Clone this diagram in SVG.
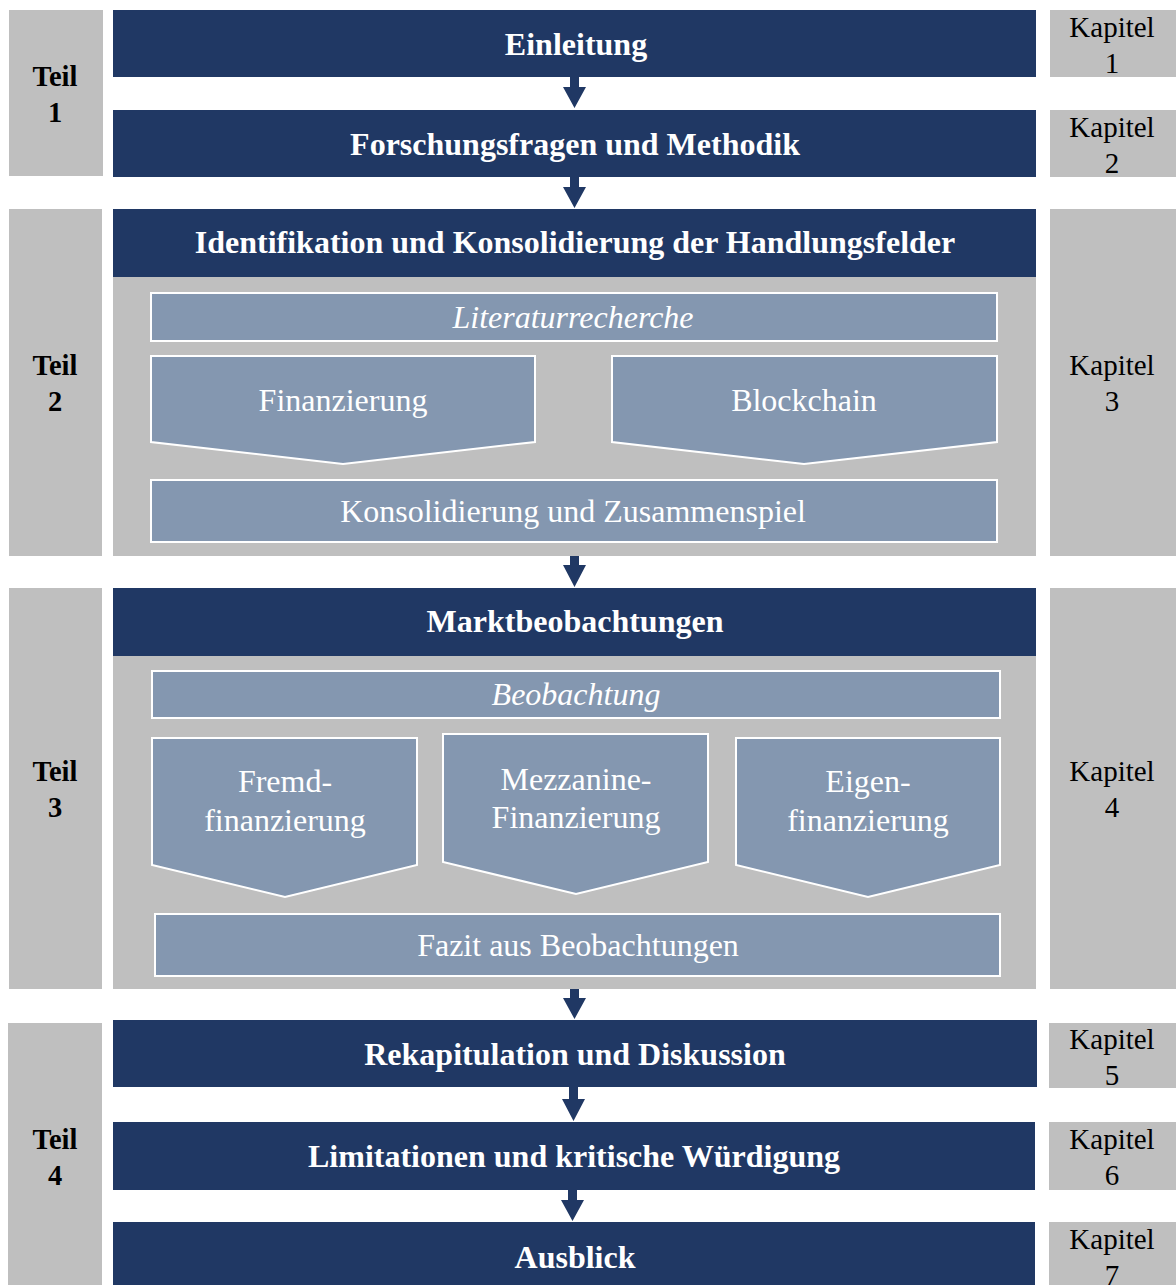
<svg xmlns="http://www.w3.org/2000/svg" width="1176" height="1285" viewBox="0 0 1176 1285">
  <style>
    .side { fill: #bfbfbf; }
    .head { fill: #203864; }
    .panel { fill: #bfbfbf; }
    .sub { fill: #8497b0; stroke: #ffffff; stroke-width: 2; }
    .arrow { fill: #203864; }
    .ht { font-family: "Liberation Serif", "Times New Roman", serif; font-weight: bold; font-size: 32px; fill: #ffffff; text-anchor: middle; }
    .st { font-family: "Liberation Serif", "Times New Roman", serif; font-size: 32px; fill: #ffffff; text-anchor: middle; }
    .it { font-style: italic; }
    .teil { font-family: "Liberation Serif", "Times New Roman", serif; font-weight: bold; font-size: 28.5px; fill: #000000; text-anchor: middle; }
    .kap { font-family: "Liberation Serif", "Times New Roman", serif; font-size: 29px; fill: #000000; text-anchor: middle; }
  </style>

  <!-- Part labels (left column) -->
  <g id="teil1"><rect class="side" x="9" y="10" width="94" height="166"/><text class="teil" x="55" y="86">Teil</text><text class="teil" x="55" y="122">1</text></g>
  <g id="teil2"><rect class="side" x="9" y="209" width="93" height="347"/><text class="teil" x="55" y="375">Teil</text><text class="teil" x="55" y="411">2</text></g>
  <g id="teil3"><rect class="side" x="9" y="588" width="93" height="401"/><text class="teil" x="55" y="781">Teil</text><text class="teil" x="55" y="817">3</text></g>
  <g id="teil4"><rect class="side" x="8" y="1023" width="94" height="262"/><text class="teil" x="55" y="1149">Teil</text><text class="teil" x="55" y="1185">4</text></g>

  <!-- Chapter labels (right column) -->
  <g id="kapitel1"><rect class="side" x="1050" y="10" width="126" height="67"/><text class="kap" x="1112" y="37">Kapitel</text><text class="kap" x="1112" y="73">1</text></g>
  <g id="kapitel2"><rect class="side" x="1050" y="110" width="126" height="67"/><text class="kap" x="1112" y="137">Kapitel</text><text class="kap" x="1112" y="173">2</text></g>
  <g id="kapitel3"><rect class="side" x="1050" y="209" width="126" height="347"/><text class="kap" x="1112" y="375">Kapitel</text><text class="kap" x="1112" y="411">3</text></g>
  <g id="kapitel4"><rect class="side" x="1050" y="588" width="126" height="401"/><text class="kap" x="1112" y="781">Kapitel</text><text class="kap" x="1112" y="817">4</text></g>
  <g id="kapitel5"><rect class="side" x="1049" y="1023" width="127" height="65"/><text class="kap" x="1112" y="1049">Kapitel</text><text class="kap" x="1112" y="1085">5</text></g>
  <g id="kapitel6"><rect class="side" x="1049" y="1122" width="127" height="68"/><text class="kap" x="1112" y="1149">Kapitel</text><text class="kap" x="1112" y="1185">6</text></g>
  <g id="kapitel7"><rect class="side" x="1049" y="1222" width="127" height="63"/><text class="kap" x="1112" y="1249">Kapitel</text><text class="kap" x="1112" y="1285">7</text></g>

  <!-- Main chapters -->
  <g id="einleitung"><rect class="head" x="113" y="10" width="923" height="67"/><text class="ht" x="576" y="55">Einleitung</text></g>
  <g id="forschungsfragen"><rect class="head" x="113" y="110" width="923" height="67"/><text class="ht" x="575" y="155">Forschungsfragen und Methodik</text></g>

  <g id="identifikation">
    <rect class="panel" x="113" y="277" width="923" height="279"/>
    <rect class="head" x="113" y="209" width="923" height="68"/>
    <text class="ht" x="575" y="253">Identifikation und Konsolidierung der Handlungsfelder</text>
  </g>
  <g id="literaturrecherche"><rect class="sub" x="151" y="293" width="846" height="48"/><text class="st it" x="573" y="328">Literaturrecherche</text></g>
  <g id="finanzierung"><polygon class="sub" points="151,356 535,356 535,442 343,464 151,442"/><text class="st" x="343" y="411">Finanzierung</text></g>
  <g id="blockchain"><polygon class="sub" points="612,356 997,356 997,442 804,464 612,442"/><text class="st" x="804" y="411">Blockchain</text></g>
  <g id="konsolidierung"><rect class="sub" x="151" y="480" width="846" height="62"/><text class="st" x="573" y="522">Konsolidierung und Zusammenspiel</text></g>

  <g id="marktbeobachtungen">
    <rect class="panel" x="113" y="656" width="923" height="333"/>
    <rect class="head" x="113" y="588" width="923" height="68"/>
    <text class="ht" x="575" y="632">Marktbeobachtungen</text>
  </g>
  <g id="beobachtung"><rect class="sub" x="152" y="671" width="848" height="47"/><text class="st it" x="576" y="705">Beobachtung</text></g>
  <g id="fremdfinanzierung"><polygon class="sub" points="152,738 417,738 417,865 285,897 152,865"/><text class="st" x="285" y="792">Fremd-</text><text class="st" x="285" y="831">finanzierung</text></g>
  <g id="mezzanine"><polygon class="sub" points="443,734 708,734 708,862 576,894 443,862"/><text class="st" x="576" y="790">Mezzanine-</text><text class="st" x="576" y="828">Finanzierung</text></g>
  <g id="eigenfinanzierung"><polygon class="sub" points="736,738 1000,738 1000,865 868,897 736,865"/><text class="st" x="868" y="792">Eigen-</text><text class="st" x="868" y="831">finanzierung</text></g>
  <g id="fazit"><rect class="sub" x="155" y="914" width="845" height="62"/><text class="st" x="578" y="956">Fazit aus Beobachtungen</text></g>

  <g id="rekapitulation"><rect class="head" x="113" y="1020" width="924" height="67"/><text class="ht" x="575" y="1065">Rekapitulation und Diskussion</text></g>
  <g id="limitationen"><rect class="head" x="113" y="1122" width="922" height="68"/><text class="ht" x="574" y="1167">Limitationen und kritische Würdigung</text></g>
  <g id="ausblick"><rect class="head" x="113" y="1222" width="922" height="63"/><text class="ht" x="575" y="1268">Ausblick</text></g>

  <!-- Connectors: block arrows between stages -->
  <g id="connectors">
    <polygon class="arrow" points="570,77 579,77 579,87 586,87 574.5,108 563,87 570,87"/>
    <polygon class="arrow" points="570,177 579,177 579,187 586,187 574.5,208 563,187 570,187"/>
    <polygon class="arrow" points="570,556 579,556 579,565 586,565 574.5,587 563,565 570,565"/>
    <polygon class="arrow" points="570,989 579,989 579,998 586,998 574.5,1019 563,998 570,998"/>
    <polygon class="arrow" points="569,1087 578,1087 578,1099 585,1099 573.5,1121 562,1099 569,1099"/>
    <polygon class="arrow" points="568,1190 577,1190 577,1200 584,1200 572.5,1221 561,1200 568,1200"/>
  </g>
</svg>
